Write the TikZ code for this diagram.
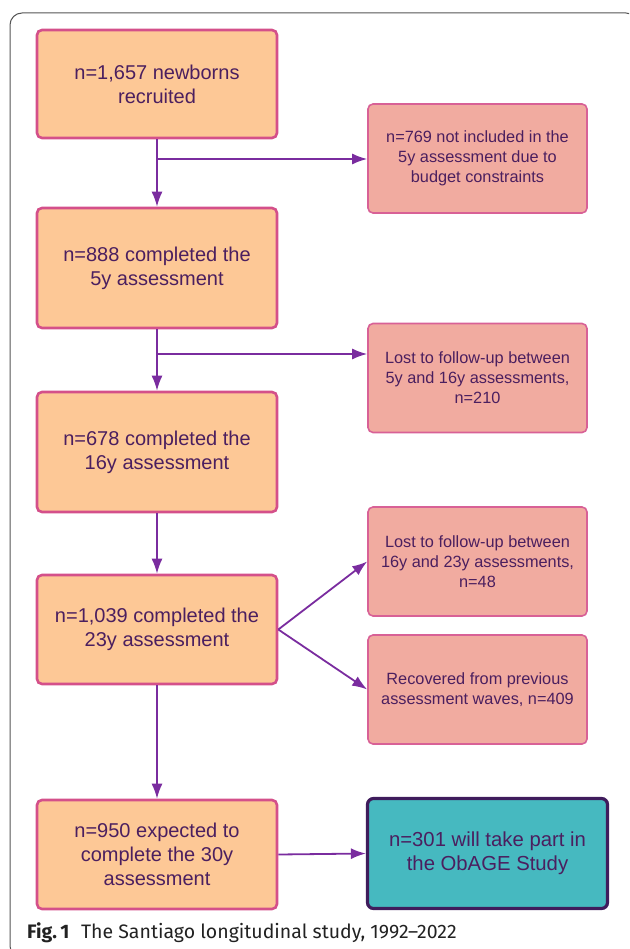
\documentclass[tikz,border=0pt]{standalone}
\usepackage{fontspec}
\setmainfont{Liberation Sans}
\newfontfamily\capfont{Fira Sans}
\usetikzlibrary{arrows.meta}
\definecolor{peach}{HTML}{FDC896}
\definecolor{pinkline}{HTML}{D4508A}
\definecolor{salmon}{HTML}{F1ABA0}
\definecolor{teal2}{HTML}{46B9C0}
\definecolor{darkpurp}{HTML}{3F1C5C}
\definecolor{txtpurp}{HTML}{4B1F5F}
\definecolor{arrpurp}{HTML}{7A2C9F}
\definecolor{framegray}{HTML}{555555}
\definecolor{captxt}{HTML}{222222}
\tikzset{
  mainbox/.style={draw=pinkline, fill=peach, line width=2.6pt, rounded corners=5pt,
    minimum width=240pt, text=txtpurp, align=center,
    font=\fontsize{20}{24}\selectfont, inner sep=0pt},
  sidebox/.style={draw=pinkline!90, fill=salmon, line width=1.6pt, rounded corners=5pt,
    minimum width=219pt, minimum height=109pt, text=txtpurp, align=center,
    font=\fontsize{16.3}{20}\selectfont, inner sep=0pt},
  tealbox/.style={draw=darkpurp, fill=teal2, line width=3.2pt, rounded corners=6pt,
    minimum width=240pt, minimum height=110pt, text=txtpurp, align=center,
    font=\fontsize{20.3}{24}\selectfont, inner sep=0pt},
  arr/.style={draw=arrpurp, line width=1.8pt, -{Latex[length=15pt,width=11pt]}},
  x=1pt, y=-1pt
}
\begin{document}
\begin{tikzpicture}
\useasboundingbox (0,0) rectangle (629,949);
\begin{scope}
\clip (0,0) rectangle (629,949);
\draw[framegray, line width=1pt, rounded corners=12pt] (10,13) rectangle (638,958);
\end{scope}

\node[mainbox, minimum height=108pt] (b1) at (157,84) {n=1,657 newborns\\recruited};
\node[mainbox, minimum height=120pt] (b2) at (157,268) {n=888 completed the\\5y assessment};
\node[mainbox, minimum height=120pt] (b3) at (157,452) {n=678 completed the\\16y assessment};
\node[mainbox, minimum height=109pt] (b4) at (157,629.5) {n=1,039 completed the\\23y assessment};
\node[mainbox, minimum height=109pt] (b5) at (157,854.5) {n=950 expected to\\complete the 30y\\assessment};

\node[sidebox] (r1) at (477.5,158.5) {n=769 not included in the\\5y assessment due to\\budget constraints};
\node[sidebox] (r2) at (477.5,378) {Lost to follow-up between\\5y and 16y assessments,\\n=210};
\node[sidebox] (r3) at (477.5,561.5) {Lost to follow-up between\\16y and 23y assessments,\\n=48};
\node[sidebox] (r4) at (477.5,689.5) {Recovered from previous\\assessment waves, n=409};

\node[tealbox] (t) at (487.5,853.5) {n=301 will take part in\\the ObAGE Study};

\coordinate (j1) at (157,159);
\coordinate (j2) at (157,354);

\draw[arr] (b1.south) -- (b2.north);
\draw[arr] (j1) -- (r1.west |- j1);
\draw[arr] (b2.south) -- (b3.north);
\draw[arr] (j2) -- (r2.west |- j2);
\draw[arr] (b3.south) -- (b4.north);
\draw[arr] (b4.east) -- (r3.west);
\draw[arr] (b4.east) -- (r4.west);
\draw[arr] (b4.south) -- (b5.north);
\draw[arr] (b5.east) -- (t.west);

\node[anchor=base west, inner sep=0pt, text=captxt, font=\capfont\fontsize{19.5}{22}\selectfont] (cap) at (27,938)
  {\textbf{Fig.\,1}\hspace{0.6em}The Santiago longitudinal study, 1992–2022};
\end{tikzpicture}
\end{document}
